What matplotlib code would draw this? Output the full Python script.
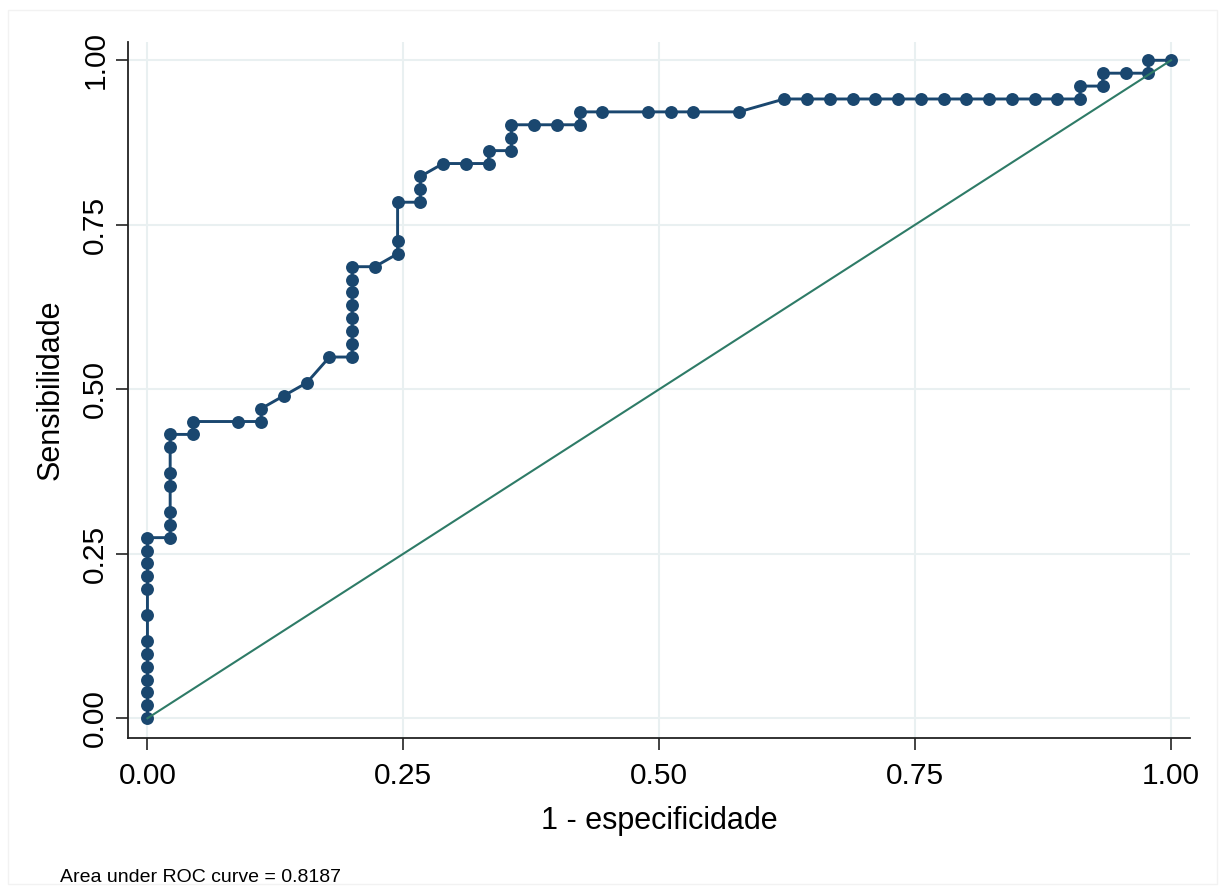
import matplotlib
matplotlib.use("Agg")
import matplotlib.pyplot as plt
from matplotlib.patches import Rectangle

# ROC points (1 - specificity, sensitivity)
fpr = [
    0, 0, 0, 0, 0, 0, 0, 0, 0, 0, 0, 0, 0,
    .0222, .0222, .0222, .0222, .0222, .0222, .0222,
    .0444, .0444, .0889, .1111, .1111, .1333, .1556,
    .1778, .2, .2, .2, .2, .2, .2, .2, .2,
    .2222, .2444, .2444, .2444, .2667, .2667, .2667,
    .2889, .3111, .3333, .3333, .3556, .3556, .3556,
    .3778, .4, .4222, .4222, .4444, .4889, .5111, .5333, .5778,
    .6222, .6444, .6667, .6889, .7111, .7333, .7556, .7778,
    .8, .8222, .8444, .8667, .8889, .9111,
    .9111, .9333, .9333, .9556, .9778, .9778, 1.0,
]
tpr = [
    0, .0196, .0392, .0588, .0784, .098, .1176, .1569, .1961, .2157, .2353, .2549, .2745,
    .2745, .2941, .3137, .3529, .3725, .4118, .4314,
    .4314, .451, .451, .451, .4706, .4902, .5098,
    .549, .549, .5686, .5882, .6078, .6275, .6471, .6667, .6863,
    .6863, .7059, .7255, .7843, .7843, .8039, .8235,
    .8431, .8431, .8431, .8627, .8627, .8824, .902,
    .902, .902, .902, .9216, .9216, .9216, .9216, .9216, .9216,
    .9412, .9412, .9412, .9412, .9412, .9412, .9412, .9412,
    .9412, .9412, .9412, .9412, .9412, .9412,
    .9608, .9608, .9804, .9804, .9804, 1.0, 1.0,
]
ref_x = [0, 1]
ref_y = [0, 1]
ticks = [0, 0.25, 0.5, 0.75, 1.0]
tick_labels = ["0.00", "0.25", "0.50", "0.75", "1.00"]
auc_text = "Area under ROC curve = 0.8187"

NAVY = "#1a476f"
GREEN = "#2e7b67"
GRID = "#e9f0f1"

plt.rcParams["font.family"] = ["Liberation Sans", "DejaVu Sans"]

W, H = 1225, 889
fig = plt.figure(figsize=(W / 100, H / 100), dpi=100)
fig.patch.set_facecolor("white")
fig.patches.append(Rectangle((8 / W, 1 - 884 / H), 1209 / W, 874 / H,
                             transform=fig.transFigure, fill=False,
                             edgecolor="#f2f2f2", linewidth=1))

ax = fig.add_axes([128 / W, 1 - 738 / H, (1190 - 128) / W, (738 - 42) / H])
ax.set_xlim(-0.019, 1.0186)
ax.set_ylim(-0.030, 1.0278)

ax.plot(fpr, tpr, color=NAVY, linewidth=2.1, marker="o", markersize=9.3,
        markeredgewidth=0, zorder=3)
ax.plot(ref_x, ref_y, color=GREEN, linewidth=1.5, zorder=4)

ax.set_xticks(ticks)
ax.set_xticklabels(tick_labels)
ax.set_yticks(ticks)
ax.set_yticklabels(tick_labels, rotation=90, va="center")
ax.grid(True, color=GRID, linewidth=1.5)
ax.set_axisbelow(True)
for side in ("top", "right"):
    ax.spines[side].set_visible(False)
for side in ("left", "bottom"):
    ax.spines[side].set_linewidth(1.3)
    ax.spines[side].set_color("#222222")
ax.tick_params(direction="out", length=8.5, width=1.2, labelsize=21.5,
               color="#222222")
ax.tick_params(axis="x", pad=8.5)
ax.tick_params(axis="y", pad=5)

ax.set_xlabel("1 - especificidade", fontsize=22, labelpad=12)
ax.set_ylabel("Sensibilidade", fontsize=22, labelpad=11)

fig.text(60 / W, 1 - 877 / H, auc_text, fontsize=14, va="center", ha="left")

fig.savefig("out.png", dpi=100)
plt.close(fig)
